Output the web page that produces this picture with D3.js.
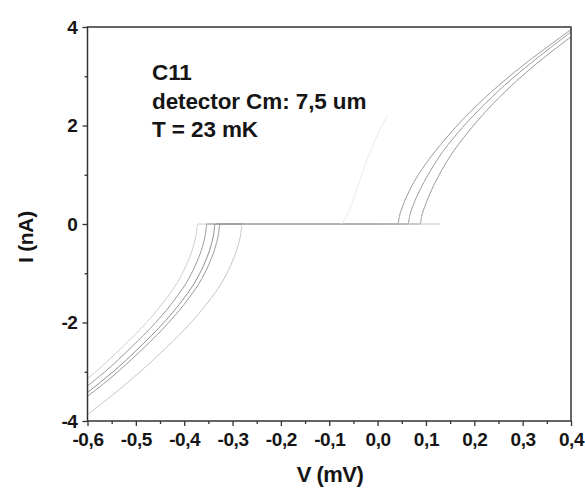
<!DOCTYPE html>
<html lang="en">
  <head>
    <meta charset="utf-8">
    <title>C11 IV curves</title>
    <script src="https://cdnjs.cloudflare.com/ajax/libs/d3/7.8.5/d3.min.js"></script>
    <style type="text/css">
      body { margin: 0; background: #fff; }
      text { font-family: "Liberation Sans", Arial, sans-serif; font-weight: bold; fill: #151515; }
    </style>
  </head>
  <body>
    <script type="text/javascript">

    //Width and height
    var w = 585;
    var h = 488;

    // axis ticks
    var xTicks = [-0.6, -0.5, -0.4, -0.3, -0.2, -0.1, 0.0, 0.1, 0.2, 0.3, 0.4];
    var yTicks = [-4, -2, 0, 2, 4];

    // IV traces, [V (mV), I (nA)]
    // negative branches (each flat at I = 0 up to V = 0)
    var negA = [[-0.6, -3.14], [-0.583, -3.0], [-0.528, -2.5], [-0.478, -2.0], [-0.436, -1.5], [-0.409, -1.1], [-0.392, -0.75], [-0.381, -0.45], [-0.375, -0.2], [-0.372, 0], [0.0, 0]];
    var negB = [[-0.6, -3.29], [-0.564, -3.0], [-0.509, -2.5], [-0.459, -2.0], [-0.417, -1.5], [-0.390, -1.1], [-0.373, -0.75], [-0.362, -0.45], [-0.356, -0.2], [-0.353, 0], [0.0, 0]];
    var negC = [[-0.6, -3.42], [-0.547, -3.0], [-0.492, -2.5], [-0.442, -2.0], [-0.400, -1.5], [-0.373, -1.1], [-0.356, -0.75], [-0.345, -0.45], [-0.339, -0.2], [-0.336, 0], [0.0, 0]];
    var negD = [[-0.6, -3.50], [-0.537, -3.0], [-0.482, -2.5], [-0.432, -2.0], [-0.390, -1.5], [-0.363, -1.1], [-0.346, -0.75], [-0.335, -0.45], [-0.329, -0.2], [-0.326, 0], [0.0, 0]];
    var negE = [[-0.6, -3.87], [-0.491, -3.0], [-0.436, -2.5], [-0.386, -2.0], [-0.344, -1.5], [-0.317, -1.1], [-0.300, -0.75], [-0.289, -0.45], [-0.283, -0.2], [-0.280, 0], [0.0, 0]];

    // positive branches (flat from V = 0)
    var posA = [[0.0, 0], [0.042, 0], [0.045, 0.15], [0.053, 0.39], [0.067, 0.70], [0.085, 1.01], [0.110, 1.36], [0.150, 1.84], [0.195, 2.31], [0.250, 2.81], [0.315, 3.33], [0.385, 3.84], [0.4, 3.95]];
    var posB = [[0.0, 0], [0.063, 0], [0.066, 0.15], [0.074, 0.39], [0.088, 0.70], [0.105, 1.01], [0.127, 1.36], [0.165, 1.84], [0.209, 2.31], [0.262, 2.81], [0.325, 3.33], [0.392, 3.84], [0.4, 3.9]];
    var posC = [[0.0, 0], [0.088, 0], [0.091, 0.15], [0.099, 0.39], [0.112, 0.70], [0.128, 1.01], [0.149, 1.36], [0.185, 1.84], [0.226, 2.31], [0.277, 2.81], [0.338, 3.33], [0.4, 3.80]];
    var posD = [[0.0, 0], [0.129, 0]];

    // faint trace near the middle
    var midF = [[-0.075, 0], [-0.062, 0.2], [-0.04, 0.8], [-0.01, 1.6], [0.02, 2.2]];

    var traces = [
      {pts: negA, c: "#cfcfcf"},
      {pts: negB, c: "#9a9a9a"},
      {pts: negC, c: "#8e8e8e"},
      {pts: negD, c: "#9a9a9a"},
      {pts: negE, c: "#c4c4c4"},
      {pts: posA, c: "#9a9a9a"},
      {pts: posB, c: "#9a9a9a"},
      {pts: posC, c: "#9a9a9a"},
      {pts: posD, c: "#c4c4c4"},
      {pts: midF, c: "#ebebeb"}
    ];

    var annot = ["C11", "detector Cm: 7,5 um", "T = 23 mK"];

    var pLeft = 87.5, pRight = 571, pTop = 27, pBottom = 421;

    var x = d3.scaleLinear().domain([-0.6, 0.4]).range([pLeft, pRight]);
    var y = d3.scaleLinear().domain([-4, 4]).range([pBottom, pTop]);

    //Create SVG element
    var svg = d3.select("body")
                .append("svg")
                .attr("width", w)
                .attr("height", h);

    svg.append("clipPath")
       .attr("id", "plotclip")
       .append("rect")
       .attr("x", pLeft)
       .attr("y", pTop)
       .attr("width", pRight - pLeft)
       .attr("height", pBottom - pTop);

    var line = d3.line()
                 .x(function(d) { return x(d[0]); })
                 .y(function(d) { return y(d[1]); })
                 .curve(d3.curveMonotoneX);

    svg.append("g")
       .attr("clip-path", "url(#plotclip)")
       .selectAll("path")
       .data(traces)
       .enter()
       .append("path")
       .attr("d", function(d) { return line(d.pts); })
       .attr("fill", "none")
       .attr("stroke", function(d) { return d.c; })
       .attr("stroke-width", 1);

    function fmt(d) {
      return d3.format(".1f")(d).replace(".", ",").replace("\u2212", "-");
    }

    // minor ticks
    var xMinor = d3.axisBottom(x)
                   .tickValues(d3.range(-0.55, 0.4, 0.1))
                   .tickSize(3)
                   .tickFormat("");
    svg.append("g")
       .attr("transform", "translate(0," + pBottom + ")")
       .call(xMinor);

    var yMinor = d3.axisLeft(y)
                   .tickValues([-3, -1, 1, 3])
                   .tickSize(3)
                   .tickFormat("");
    svg.append("g")
       .attr("transform", "translate(" + pLeft + ",0)")
       .call(yMinor);

    var xAxis = d3.axisBottom(x)
                  .tickValues(xTicks)
                  .tickSize(5)
                  .tickPadding(7)
                  .tickFormat(fmt);
    svg.append("g")
       .attr("class", "xaxis")
       .attr("transform", "translate(0," + pBottom + ")")
       .call(xAxis);

    var yAxis = d3.axisLeft(y)
                  .tickValues(yTicks)
                  .tickSize(5)
                  .tickPadding(5)
                  .tickFormat(function(d) { return d; });
    svg.append("g")
       .attr("class", "yaxis")
       .attr("transform", "translate(" + pLeft + ",0)")
       .call(yAxis);

    svg.selectAll(".tick line").attr("stroke", "#333").attr("stroke-width", 1.3);
    svg.selectAll(".domain").remove();
    svg.selectAll(".xaxis text, .yaxis text")
       .attr("font-size", "19px")
       .attr("letter-spacing", "-0.4px")
       .attr("fill", "#151515");

    // frame
    svg.append("rect")
       .attr("x", pLeft)
       .attr("y", pTop)
       .attr("width", pRight - pLeft)
       .attr("height", pBottom - pTop)
       .attr("fill", "none")
       .attr("stroke", "#333")
       .attr("stroke-width", 1.5);

    // axis titles
    svg.append("text")
       .text("V (mV)")
       .attr("x", 330)
       .attr("y", 482)
       .attr("text-anchor", "middle")
       .attr("font-size", "22px")
       .attr("letter-spacing", "-0.5px");

    svg.append("text")
       .text("I (nA)")
       .attr("transform", "translate(33,237) rotate(-90)")
       .attr("text-anchor", "middle")
       .attr("font-size", "21px")
       .attr("letter-spacing", "-0.3px");

    // annotation
    svg.selectAll("text.annot")
       .data(annot)
       .enter()
       .append("text")
       .attr("class", "annot")
       .text(function(d) { return d; })
       .attr("x", 152)
       .attr("y", function(d, i) { return 80 + i * 28.5; })
       .attr("font-size", "22.5px")
       .attr("letter-spacing", "-0.1px");

    </script>
  </body>
</html>
